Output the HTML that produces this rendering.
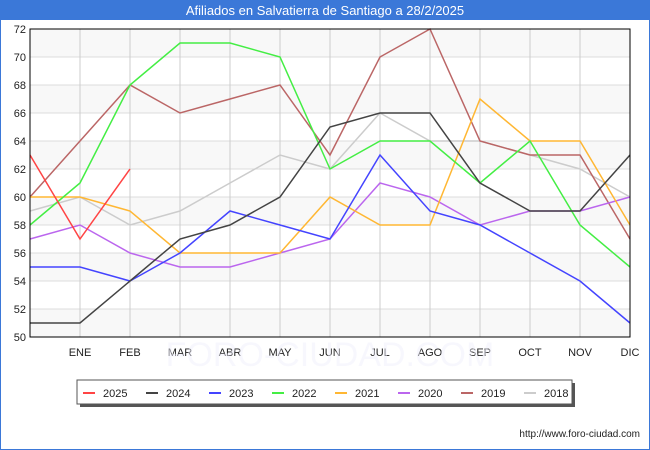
<!DOCTYPE html>
<html><head><meta charset="utf-8"><style>
body{margin:0;background:#fff;font-family:"Liberation Sans","DejaVu Sans",sans-serif;}
#wrap{position:relative;width:648px;height:448px;border:1px solid #3b78d8;background:#fff;}
</style></head><body>
<div id="wrap">
<svg id="chart" width="650" height="450" style="position:absolute;left:-1px;top:-1px">
<rect x="0" y="0" width="650" height="20" fill="#3b78d8"/>
<text x="325" y="15" text-anchor="middle" fill="#fff" font-size="13">Afiliados en Salvatierra de Santiago a 28/2/2025</text>
<g id="plot"></g>
<text x="640" y="437" text-anchor="end" font-size="10" fill="#222">http://www.foro-ciudad.com</text>
</svg>
</div>
<script>
const months=["","ENE","FEB","MAR","ABR","MAY","JUN","JUL","AGO","SEP","OCT","NOV","DIC"];
const yTicks=[50,52,54,56,58,60,62,64,66,68,70,72];
const years=["2025","2024","2023","2022","2021","2020","2019","2018"];
const colors=["#ff4444","#444444","#4444ff","#44ee44","#ffb733","#bb66ee","#bb6666","#cccccc"];
const s2025=[63,57,62];
const s2024=[51,51,54,57,58,60,65,66,66,61,59,59,63];
const s2023=[55,55,54,56,59,58,57,63,59,58,56,54,51];
const s2022=[58,61,68,71,71,70,62,64,64,61,64,58,55];
const s2021=[60,60,59,56,56,56,60,58,58,67,64,64,58];
const s2020=[57,58,56,55,55,56,57,61,60,58,59,59,60];
const s2019=[60,64,68,66,67,68,63,70,72,64,63,63,57];
const s2018=[59,60,58,59,61,63,62,66,64,64,63,62,60];
const series=[s2025,s2024,s2023,s2022,s2021,s2020,s2019,s2018];
const X0=30,X1=630,Y0=337,Y1=29,ymin=50,ymax=72;
const xs=i=>X0+i*(X1-X0)/(months.length-1);
const ys=v=>Y0-(v-ymin)*(Y0-Y1)/(ymax-ymin);
const NS="http://www.w3.org/2000/svg";
const g=document.getElementById('plot');
function mk(t,a,p){const e=document.createElementNS(NS,t);for(const k in a)e.setAttribute(k,a[k]);(p||g).appendChild(e);return e;}
for(let i=0;i<yTicks.length-1;i++){
 const b=mk('rect',{x:X0,y:ys(yTicks[i+1]),width:X1-X0,height:ys(yTicks[i])-ys(yTicks[i+1]),fill:i%2?'#ffffff':'#f8f8f8'});
 
 
}
yTicks.forEach(v=>{
 const l=mk('line',{x1:X0,x2:X1,y1:ys(v),y2:ys(v),stroke:'#dddddd'});
 
 
 const t=mk('text',{x:X0-4,y:ys(v)+4,'text-anchor':'end','font-size':'11',fill:'#222'});
 t.textContent=v;
 
 
});
months.forEach((m,i)=>{
 if(i>0){
 const l=mk('line',{x1:xs(i),x2:xs(i),y1:Y1,y2:Y0,stroke:'#cccccc'});
 
 
 const t=mk('text',{x:xs(i),y:356,'text-anchor':'middle','font-size':'11',fill:'#222'});
 t.textContent=m;
 
 
 }
});
const wm=mk('text',{x:330,y:366,'text-anchor':'middle','font-size':'34',fill:'#f0f0fc',opacity:0.5});
wm.textContent='FORO-CIUDAD.COM';


for(let k=series.length-1;k>=0;k--){
 const pts=series[k].map((v,i)=>xs(i)+','+ys(v)).join(' ');
 const p=mk('polyline',{points:pts,fill:'none',stroke:colors[k],'stroke-width':1.5});
 
 
}
const fr=mk('rect',{x:X0,y:Y1,width:X1-X0,height:Y0-Y1,fill:'none',stroke:'#000'});


const lg=mk('g',{});


mk('rect',{x:80,y:383,width:495,height:24,fill:'#555'},lg);
mk('rect',{x:77,y:380,width:495,height:24,fill:'#fff',stroke:'#555'},lg);
years.forEach((y,k)=>{
 const x=83+k*63;
 const e=mk('g',{},lg);
 
 
 mk('line',{x1:x,x2:x+12,y1:393,y2:393,stroke:colors[k],'stroke-width':2},e);
 const t=mk('text',{x:x+20,y:397,'font-size':'11',fill:'#222'},e);
 t.textContent=y;
});
</script>
</body></html>
